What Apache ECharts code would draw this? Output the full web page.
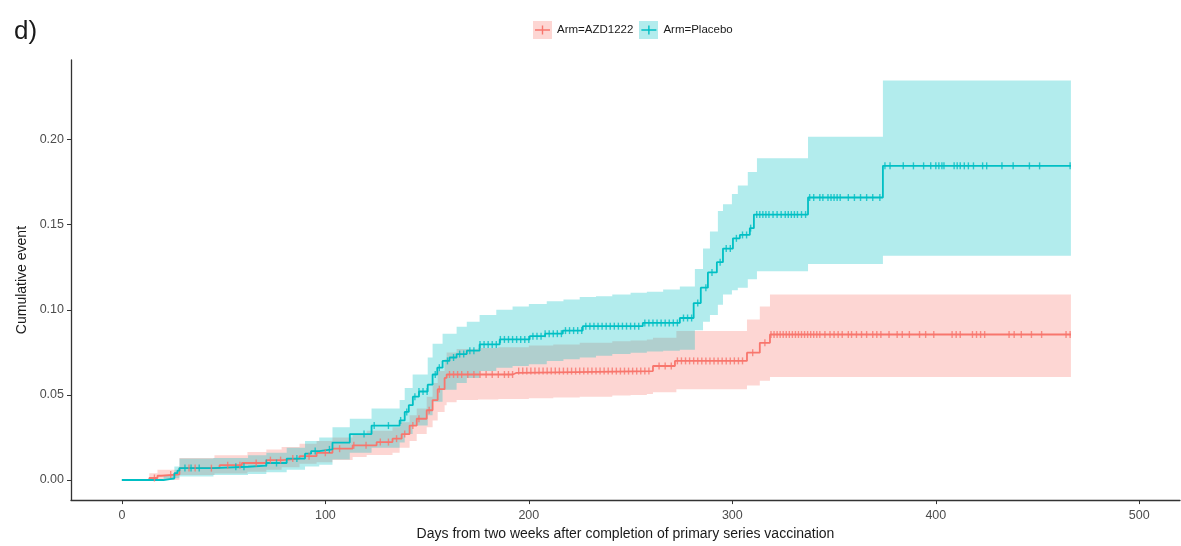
<!DOCTYPE html>
<html>
<head>
<meta charset="utf-8">
<script src="https://cdn.jsdelivr.net/npm/echarts@6/dist/echarts.min.js"></script>
<style>
html,body{margin:0;padding:0;background:#fff;}
#chart{width:1181px;height:546px;}
</style>
</head>
<body>
<div id="chart"></div>
<script>
// ---- Data ----
var seriesNames = ['Arm=AZD1222', 'Arm=Placebo'];
var xTicks = [0, 100, 200, 300, 400, 500];
var yTicks = [0, 0.05, 0.10, 0.15, 0.20];

// Kaplan-Meier cumulative event, [day, value]
var azdLine = [
  [0,0],[13.5,0.0012],[17.5,0.0025],[19.4,0.0033],[28.3,0.0070],[48,0.0087],[59,0.010],
  [71,0.0117],[79,0.0126],[87.3,0.014],[95.7,0.016],[103.5,0.0184],[113.4,0.0204],
  [125.2,0.0223],[133,0.0243],[137.5,0.027],[141.4,0.032],[144.9,0.036],[149.8,0.041],
  [152.7,0.047],[155.2,0.0534],[158.6,0.060],[159.6,0.062],[192.1,0.063],[194,0.064],
  [261,0.067],[271.8,0.070],[307.2,0.0748],[313.5,0.0806],[318.5,0.0855],[466.4,0.0855]
];
var placeboLine = [
  [0,0],[20.5,0.001],[25.8,0.004],[27.3,0.0055],[28.3,0.007],[45,0.0078],[62,0.0085],
  [71,0.010],[81,0.0126],[90,0.0155],[93,0.017],[97,0.018],[103.5,0.022],[112,0.027],
  [122.7,0.032],[136.5,0.035],[139,0.040],[141,0.044],[143,0.049],[146,0.052],[150.3,0.056],
  [152.7,0.062],[155,0.066],[157.6,0.070],[161,0.072],[164.5,0.074],[169.5,0.076],
  [175.8,0.0797],[185.7,0.0826],[200.4,0.0845],[208,0.086],[216.7,0.0878],[226.5,0.0904],
  [256,0.0923],[274.2,0.0952],[281,0.104],[284.5,0.113],[288,0.122],[292.4,0.128],
  [295.4,0.136],[300.3,0.142],[303.7,0.144],[308.6,0.148],[310.6,0.156],[337.2,0.166],
  [374,0.1846],[466.4,0.1846]
];

// Confidence bands, [day, lower, upper]
var azdBand = [
  [0,0,0],[13.5,0,0.004],[17.5,0,0.006],[28.3,0.003,0.013],[45.5,0.0038,0.0146],
  [61.7,0.0048,0.0165],[71,0.006,0.018],[78.5,0.0075,0.0194],[87.3,0.0095,0.0213],
  [95.7,0.0105,0.023],[103.5,0.0118,0.025],[113.4,0.0135,0.027],[120.3,0.0147,0.029],
  [133,0.016,0.031],[136.5,0.019,0.034],[141.4,0.023,0.038],[144.9,0.027,0.042],
  [149.8,0.031,0.049],[152.7,0.035,0.057],[155.2,0.040,0.064],[158.6,0.044,0.071],
  [159.6,0.0457,0.075],[164.5,0.047,0.077],[175,0.0473,0.0775],[185,0.0476,0.078],
  [200,0.048,0.079],[212,0.0485,0.0797],[225,0.049,0.0807],[241,0.0497,0.0815],
  [250,0.050,0.082],[258,0.0505,0.0826],[261,0.0515,0.0836],[272.5,0.0534,0.0876],
  [307.2,0.0555,0.0943],[313.5,0.0584,0.102],[318.5,0.0606,0.109],[466.4,0.0606,0.109]
];
var placeboBand = [
  [0,0,0],[20.5,0,0.003],[25.8,0.001,0.008],[28.3,0.002,0.0126],[45,0.003,0.013],
  [62,0.0035,0.0145],[71,0.0045,0.016],[81,0.006,0.019],[90,0.008,0.023],[97,0.009,0.025],
  [103.5,0.012,0.031],[112,0.016,0.036],[122.7,0.019,0.042],[136.5,0.022,0.047],
  [139,0.027,0.054],[142.9,0.032,0.062],[150.3,0.038,0.072],[152.7,0.046,0.080],
  [157.6,0.053,0.086],[164.5,0.057,0.090],[169.5,0.060,0.093],[175.8,0.064,0.097],
  [184,0.066,0.100],[192,0.067,0.102],[200,0.068,0.1035],[208.8,0.070,0.105],
  [217,0.071,0.106],[225,0.072,0.1075],[233,0.073,0.108],[241,0.074,0.109],
  [250,0.0748,0.110],[258,0.0755,0.1106],[266,0.076,0.112],[274.2,0.0765,0.1137],
  [281.6,0.088,0.124],[285.6,0.093,0.136],[289,0.097,0.146],[292.9,0.103,0.158],
  [295.4,0.109,0.162],[299.8,0.1115,0.168],[302.7,0.113,0.173],[307.6,0.118,0.181],
  [312.1,0.1226,0.189],[337.2,0.127,0.2017],[374,0.1318,0.2348],[466.4,0.1318,0.2348]
];

// Censoring times (days)
var azdCensor = [
  16,24,33,36,44,52,58,66,73,78,84,92,100,107,114,120,127,131,135,139,143,146,151,156,
  161,163,165,167,170,173,176,179,182,185,188,190,192,195,197,199,201,203,205,207,209,
  211,213,215,217,219,221,223,225,227,229,231,233,235,237,239,241,243,245,247,249,251,
  253,255,257,259,264,267,270,273,275,277,279,281,283,285,287,289,291,293,295,297,299,
  301,303,305,310,316,319,320.5,322,323.5,325,326.5,328,329.5,331,332.5,334,335.5,337,
  338.5,340,341.5,343,345.5,348,350,352,354,357,358.6,361,363.5,366,369,371,373,377,381,
  383.5,387,392,395,399,408,410,412,418,420,422,424,436,438.5,442,447,452,464,466
];
var placeboCensor = [
  31,34,38,56,60,71,76,86,95,102,119,124,131,137,140,144,146,148,150,154,156,160,163,
  166,168,171,173,176,178,180,182,184,186,188,190,192,194,196,198,200,202,204,206,208,
  210,212,214,216,218,220,222,224,226,228,230,232,234,236,238,240,242,244,246,248,250,
  252,254,257,259,261,263,265,267,269,271,273,276,278,280,283,287,290,294,297,299,302,
  305,307,309,312,313.5,315,316.5,318,320,322,324,326,327.5,329,330.5,332,334,336,338,
  340,343,344.5,347,348.5,350,351.5,353,357,360,363,366,369,372.5,375,377.5,384,389,394,
  397.5,400,401.5,403,404,409,410.5,412,414,416,418.5,423,425,432.5,438,446,451,466
];

// ---- helpers ----
var RED = '#F8766D', CYAN = '#00BFC4';
function stepAt(line, d) {
  var v = 0;
  for (var i = 0; i < line.length; i++) { if (line[i][0] <= d) v = line[i][1]; }
  return v;
}
function censorPts(times, line) { return times.map(function (t) { return [t, stepAt(line, t)]; }); }

// Step-shaped ribbon drawn as one polygon through the axis scales
function bandSeries(band, color) {
  return {
    type: 'custom', silent: true, z: 1,
    data: band,
    encode: { x: 0, y: [1, 2] },
    renderItem: function (params, api) {
      if (params.dataIndex !== 0) return null;
      var upper = [], lower = [];
      for (var i = 0; i < band.length; i++) {
        var x0 = band[i][0];
        var x1 = i + 1 < band.length ? band[i + 1][0] : band[i][0];
        upper.push(api.coord([x0, band[i][2]]));
        upper.push(api.coord([x1, band[i][2]]));
        lower.push(api.coord([x0, band[i][1]]));
        lower.push(api.coord([x1, band[i][1]]));
      }
      var pts = upper.concat(lower.reverse());
      return {
        type: 'polygon',
        shape: { points: pts },
        style: { fill: color, opacity: 0.3 }
      };
    }
  };
}

var chart = echarts.init(document.getElementById('chart'), null, { renderer: 'canvas' });
var FONT = 'Liberation Sans, Arial, sans-serif';

var series = [
  bandSeries(azdBand, RED),
  bandSeries(placeboBand, CYAN),
  { name: seriesNames[0], type: 'line', step: 'end', data: azdLine, symbol: 'none',
    lineStyle: { color: RED, width: 1.8 }, itemStyle: { color: RED }, z: 3 },
  { name: seriesNames[1], type: 'line', step: 'end', data: placeboLine, symbol: 'none',
    lineStyle: { color: CYAN, width: 1.8 }, itemStyle: { color: CYAN }, z: 3 },
  { type: 'scatter', data: censorPts(azdCensor, azdLine), symbol: 'rect', symbolSize: [1.4, 7],
    itemStyle: { color: RED }, silent: true, z: 4 },
  { type: 'scatter', data: censorPts(placeboCensor, placeboLine), symbol: 'rect', symbolSize: [1.4, 7],
    itemStyle: { color: CYAN }, silent: true, z: 4 }
];

var plusIcon = 'path://M0,0 L0.01,0 L0,0.01 Z M19,18 L18.99,18 L19,17.99 Z M2,8.3 L17,8.3 L17,9.7 L2,9.7 Z M8.8,4.5 L10.2,4.5 L10.2,13.5 L8.8,13.5 Z';

chart.setOption({
  animation: false,
  backgroundColor: '#ffffff',
  textStyle: { fontFamily: FONT },
  grid: { left: 71, right: 1, top: 60, bottom: 43, containLabel: false },
  legend: {
    data: seriesNames,
    left: 533, top: 21, padding: 0,
    itemWidth: 19, itemHeight: 18, itemGap: 6,
    icon: plusIcon,
    selectedMode: false,
    textStyle: { fontFamily: FONT, fontSize: 11.5, color: '#1a1a1a' }
  },
  graphic: [
    { type: 'text', left: 14, top: 19, z: 10,
      style: { text: 'd)', font: '26px ' + FONT, fill: '#1a1a1a' } },
    { type: 'rect', left: 533, top: 21, z: -1, silent: true,
      shape: { width: 19, height: 18 }, style: { fill: 'rgba(248,118,109,0.3)' } },
    { type: 'rect', left: 639, top: 21, z: -1, silent: true,
      shape: { width: 19, height: 18 }, style: { fill: 'rgba(0,191,196,0.3)' } }
  ],
  xAxis: {
    type: 'value', min: -25, max: 520,
    name: 'Days from two weeks after completion of primary series vaccination',
    nameLocation: 'middle', nameGap: 22,
    nameTextStyle: { fontSize: 14, color: '#1a1a1a', fontFamily: FONT },
    axisLine: { show: true, onZero: false, lineStyle: { color: '#333', width: 1.3 } },
    axisTick: { show: true, length: 4, lineStyle: { color: '#333' }, customValues: xTicks },
    axisLabel: { color: '#4d4d4d', fontSize: 12.5, margin: 9, customValues: xTicks,
      formatter: function (v) { return String(v); } },
    splitLine: { show: false }
  },
  yAxis: {
    type: 'value', min: -0.0118, max: 0.2468,
    name: 'Cumulative event',
    nameLocation: 'middle', nameGap: 31,
    nameTextStyle: { fontSize: 14, color: '#1a1a1a', fontFamily: FONT },
    axisLine: { show: true, onZero: false, lineStyle: { color: '#333', width: 1.3 } },
    axisTick: { show: true, length: 4, lineStyle: { color: '#333' }, customValues: yTicks },
    axisLabel: { color: '#4d4d4d', fontSize: 12.5, margin: 7, customValues: yTicks,
      formatter: function (v) { return v.toFixed(2); } },
    splitLine: { show: false }
  },
  series: series
});
</script>
</body>
</html>
